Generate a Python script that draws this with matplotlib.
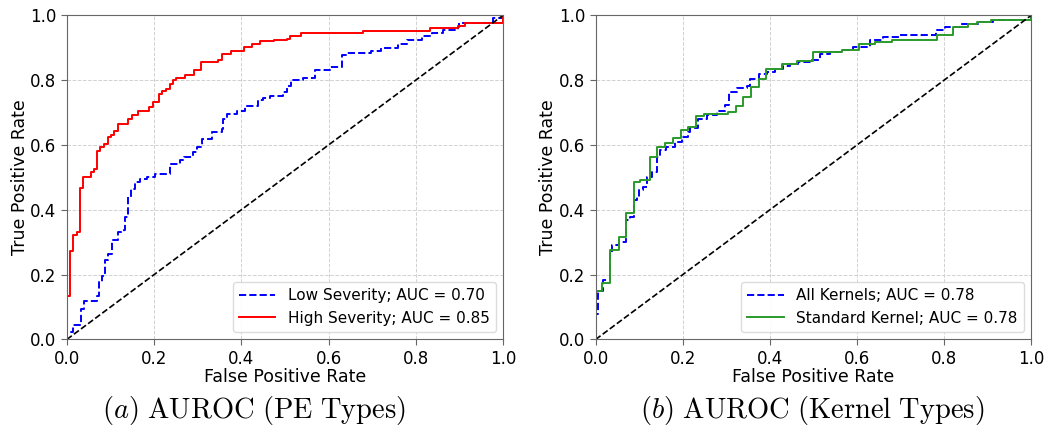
import matplotlib
matplotlib.use("Agg")
import matplotlib.pyplot as plt

# ---- data ----
fpr_lo = [0, 0, 0.015, 0.032, 0.040, 0.070, 0.073, 0.080, 0.088, 0.095,
          0.103, 0.118, 0.130, 0.134, 0.141, 0.147, 0.156, 0.168, 0.183, 0.202,
          0.237, 0.260, 0.269, 0.290, 0.298, 0.309, 0.332, 0.355, 0.357, 0.366,
          0.389, 0.408, 0.439, 0.450, 0.466, 0.496, 0.504, 0.513, 0.542, 0.569,
          0.603, 0.630, 0.641, 0.698, 0.721, 0.760, 0.779, 0.813, 0.836, 0.863,
          0.897, 0.899, 0.977, 1.0]
tpr_lo = [0, 0.024, 0.044, 0.095, 0.119, 0.133, 0.178, 0.195, 0.244, 0.265,
          0.306, 0.332, 0.339, 0.378, 0.439, 0.465, 0.486, 0.496, 0.501, 0.509,
          0.542, 0.552, 0.563, 0.578, 0.595, 0.619, 0.640, 0.650, 0.681, 0.696,
          0.706, 0.721, 0.737, 0.745, 0.752, 0.763, 0.783, 0.799, 0.807, 0.830,
          0.840, 0.876, 0.883, 0.891, 0.899, 0.912, 0.924, 0.937, 0.946, 0.953,
          0.963, 0.975, 0.990, 1.0]

fpr_hi = [0, 0, 0.008, 0.015, 0.023, 0.031, 0.038, 0.055, 0.063, 0.070,
          0.076, 0.086, 0.095, 0.101, 0.108, 0.118, 0.141, 0.149, 0.164, 0.189,
          0.197, 0.212, 0.218, 0.228, 0.237, 0.243, 0.250, 0.271, 0.292, 0.307,
          0.347, 0.355, 0.376, 0.406, 0.424, 0.443, 0.474, 0.504, 0.512, 0.536,
          0.679, 0.832, 0.897, 0.912, 0.966, 1.0]
tpr_hi = [0, 0.133, 0.273, 0.321, 0.332, 0.468, 0.501, 0.516, 0.527, 0.581,
          0.593, 0.602, 0.624, 0.632, 0.642, 0.665, 0.681, 0.691, 0.706, 0.717,
          0.732, 0.756, 0.766, 0.773, 0.788, 0.799, 0.806, 0.814, 0.830, 0.855,
          0.862, 0.879, 0.888, 0.901, 0.912, 0.920, 0.922, 0.925, 0.937, 0.945,
          0.951, 0.961, 0.968, 0.976, 0.976, 1.0]

fpr_all = [0, 0, 0.005, 0.017, 0.034, 0.037, 0.053, 0.070, 0.079, 0.087,
           0.095, 0.099, 0.108, 0.118, 0.129, 0.141, 0.148, 0.162, 0.183, 0.198,
           0.213, 0.217, 0.236, 0.255, 0.278, 0.297, 0.305, 0.324, 0.347, 0.354,
           0.374, 0.393, 0.412, 0.431, 0.446, 0.465, 0.496, 0.515, 0.538, 0.568,
           0.591, 0.629, 0.660, 0.698, 0.782, 0.801, 0.836, 0.882, 0.912, 1.0]
tpr_all = [0, 0.077, 0.149, 0.184, 0.266, 0.292, 0.302, 0.369, 0.379, 0.430,
           0.438, 0.461, 0.471, 0.502, 0.517, 0.564, 0.584, 0.594, 0.610, 0.625,
           0.640, 0.651, 0.681, 0.692, 0.705, 0.722, 0.763, 0.774, 0.781, 0.804,
           0.820, 0.825, 0.835, 0.842, 0.848, 0.855, 0.862, 0.881, 0.886, 0.893,
           0.902, 0.924, 0.932, 0.939, 0.955, 0.963, 0.973, 0.980, 0.986, 1.0]

fpr_std = [0, 0, 0.015, 0.032, 0.053, 0.070, 0.089, 0.102, 0.124, 0.141,
           0.160, 0.177, 0.196, 0.213, 0.231, 0.248, 0.303, 0.322, 0.339, 0.356,
           0.374, 0.391, 0.427, 0.463, 0.498, 0.565, 0.605, 0.641, 0.679, 0.784,
           0.820, 0.855, 0.874, 0.908, 1.0]
tpr_std = [0, 0.149, 0.174, 0.277, 0.316, 0.391, 0.487, 0.492, 0.564, 0.594,
           0.607, 0.620, 0.645, 0.654, 0.689, 0.695, 0.702, 0.719, 0.748, 0.779,
           0.804, 0.835, 0.848, 0.859, 0.886, 0.893, 0.912, 0.917, 0.924, 0.938,
           0.963, 0.973, 0.978, 0.986, 1.0]

labels_a = ["Low Severity; AUC = 0.70", "High Severity; AUC = 0.85"]
labels_b = ["All Kernels; AUC = 0.78", "Standard Kernel; AUC = 0.78"]
captions = [r"$(a)\ \mathrm{AUROC\ (PE\ Types)}$", r"$(b)\ \mathrm{AUROC\ (Kernel\ Types)}$"]
ticks = [0.0, 0.2, 0.4, 0.6, 0.8, 1.0]

plt.rcParams['mathtext.fontset'] = 'cm'
plt.rcParams['font.family'] = 'DejaVu Sans'

fig = plt.figure(figsize=(10.44, 4.33), dpi=100)
ax1 = fig.add_axes([0.0640, 0.216, 0.4180, 0.749])
ax2 = fig.add_axes([0.5705, 0.216, 0.4175, 0.749])

def style(ax):
    ax.plot([0, 1], [0, 1], 'k--', lw=1.2)
    ax.set_xlim(0, 1)
    ax.set_ylim(0, 1)
    ax.set_xticks(ticks)
    ax.set_yticks(ticks)
    ax.tick_params(labelsize=12, length=4, color='0.4')
    ax.grid(True, linestyle='--', color='0.82', lw=0.7)
    ax.set_axisbelow(True)
    for s in ax.spines.values():
        s.set_color('0.4')
    ax.set_xlabel("False Positive Rate", fontsize=12.5, labelpad=0)
    ax.set_ylabel("True Positive Rate", fontsize=12.5, labelpad=1)

ax1.plot(fpr_lo, tpr_lo, color='b', ls='--', lw=1.4, drawstyle='steps-post', label=labels_a[0])
ax1.plot(fpr_hi, tpr_hi, color='r', ls='-', lw=1.4, drawstyle='steps-post', label=labels_a[1])
style(ax1)
ax1.legend(loc='lower right', fontsize=11, handlelength=2.4, framealpha=0.9, edgecolor='0.85')

ax2.plot(fpr_all, tpr_all, color='b', ls='--', lw=1.4, drawstyle='steps-post', label=labels_b[0])
ax2.plot(fpr_std, tpr_std, color='#2a9a2a', ls='-', lw=1.4, drawstyle='steps-post', label=labels_b[1])
style(ax2)
ax2.legend(loc='lower right', fontsize=11, handlelength=2.4, framealpha=0.9, edgecolor='0.85')

fig.text(0.243, 0.052, captions[0], fontsize=20.5, ha='center', va='center')
fig.text(0.778, 0.052, captions[1], fontsize=20.5, ha='center', va='center')

fig.savefig("out.png", dpi=100)
